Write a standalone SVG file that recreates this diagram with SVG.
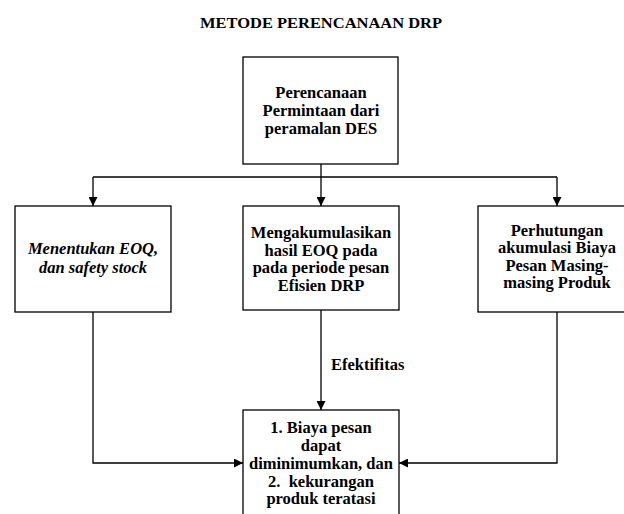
<svg xmlns="http://www.w3.org/2000/svg" width="624" height="514" viewBox="0 0 624 514">
<style>
.box{fill:#ffffff;stroke:#000000;stroke-width:1.3}
.t{font-family:"Liberation Serif","Times New Roman",serif;font-weight:bold;font-size:16.5px;fill:#000000;text-anchor:middle}
.i{font-style:italic}
.c{fill:none;stroke:#000000;stroke-width:1.3}
</style>
<defs>
<marker id="ah" viewBox="0 0 10 10" refX="10" refY="5" markerWidth="9" markerHeight="9" markerUnits="userSpaceOnUse" orient="auto">
<path d="M0,0 L10,5 L0,10 z" fill="#000000"/>
</marker>
</defs>
<rect width="624" height="514" fill="#ffffff"/>
<text class="t" x="321" y="28" style="font-size:15.5px" textLength="242" lengthAdjust="spacingAndGlyphs">METODE PERENCANAAN DRP</text>
<g id="connectors">
<path class="c" d="M321,164 V177"/>
<path class="c" d="M93,177 H557"/>
<path class="c" d="M93,177 V206" marker-end="url(#ah)"/>
<path class="c" d="M321,177 V206" marker-end="url(#ah)"/>
<path class="c" d="M557,177 V206" marker-end="url(#ah)"/>
<path class="c" d="M321,310 V410" marker-end="url(#ah)"/>
<path class="c" d="M93,312 V463 H243" marker-end="url(#ah)"/>
<path class="c" d="M557,312 V463 H399" marker-end="url(#ah)"/>
<text class="t" x="331" y="370" style="text-anchor:start">Efektifitas</text>
</g>
<g id="node-top">
<rect class="box" x="243" y="57" width="155" height="107"/>
<text class="t" x="321" y="98">Perencanaan</text>
<text class="t" x="321" y="116">Permintaan dari</text>
<text class="t" x="321" y="134">peramalan DES</text>
</g>
<g id="node-left">
<rect class="box" x="15" y="206" width="156" height="106"/>
<text class="t i" x="93" y="254">Menentukan EOQ,</text>
<text class="t i" x="93" y="272.5">dan safety stock</text>
</g>
<g id="node-middle">
<rect class="box" x="243" y="206" width="156" height="104"/>
<text class="t" x="321" y="238">Mengakumulasikan</text>
<text class="t" x="321" y="255.7">hasil EOQ pada</text>
<text class="t" x="321" y="273.4">pada periode pesan</text>
<text class="t" x="321" y="291">Efisien DRP</text>
</g>
<g id="node-right">
<rect class="box" x="478" y="206" width="158" height="106"/>
<text class="t" x="557" y="236">Perhutungan</text>
<text class="t" x="557" y="253.3">akumulasi Biaya</text>
<text class="t" x="557" y="270.7">Pesan Masing-</text>
<text class="t" x="557" y="288">masing Produk</text>
</g>
<g id="node-bottom">
<rect class="box" x="243" y="410" width="156" height="120"/>
<text class="t" x="321" y="433.3">1. Biaya pesan</text>
<text class="t" x="321" y="450.5">dapat</text>
<text class="t" x="321" y="469">diminimumkan, dan</text>
<text class="t" x="321" y="486.5" xml:space="preserve">2.  kekurangan</text>
<text class="t" x="321" y="504">produk teratasi</text>
</g>
</svg>
